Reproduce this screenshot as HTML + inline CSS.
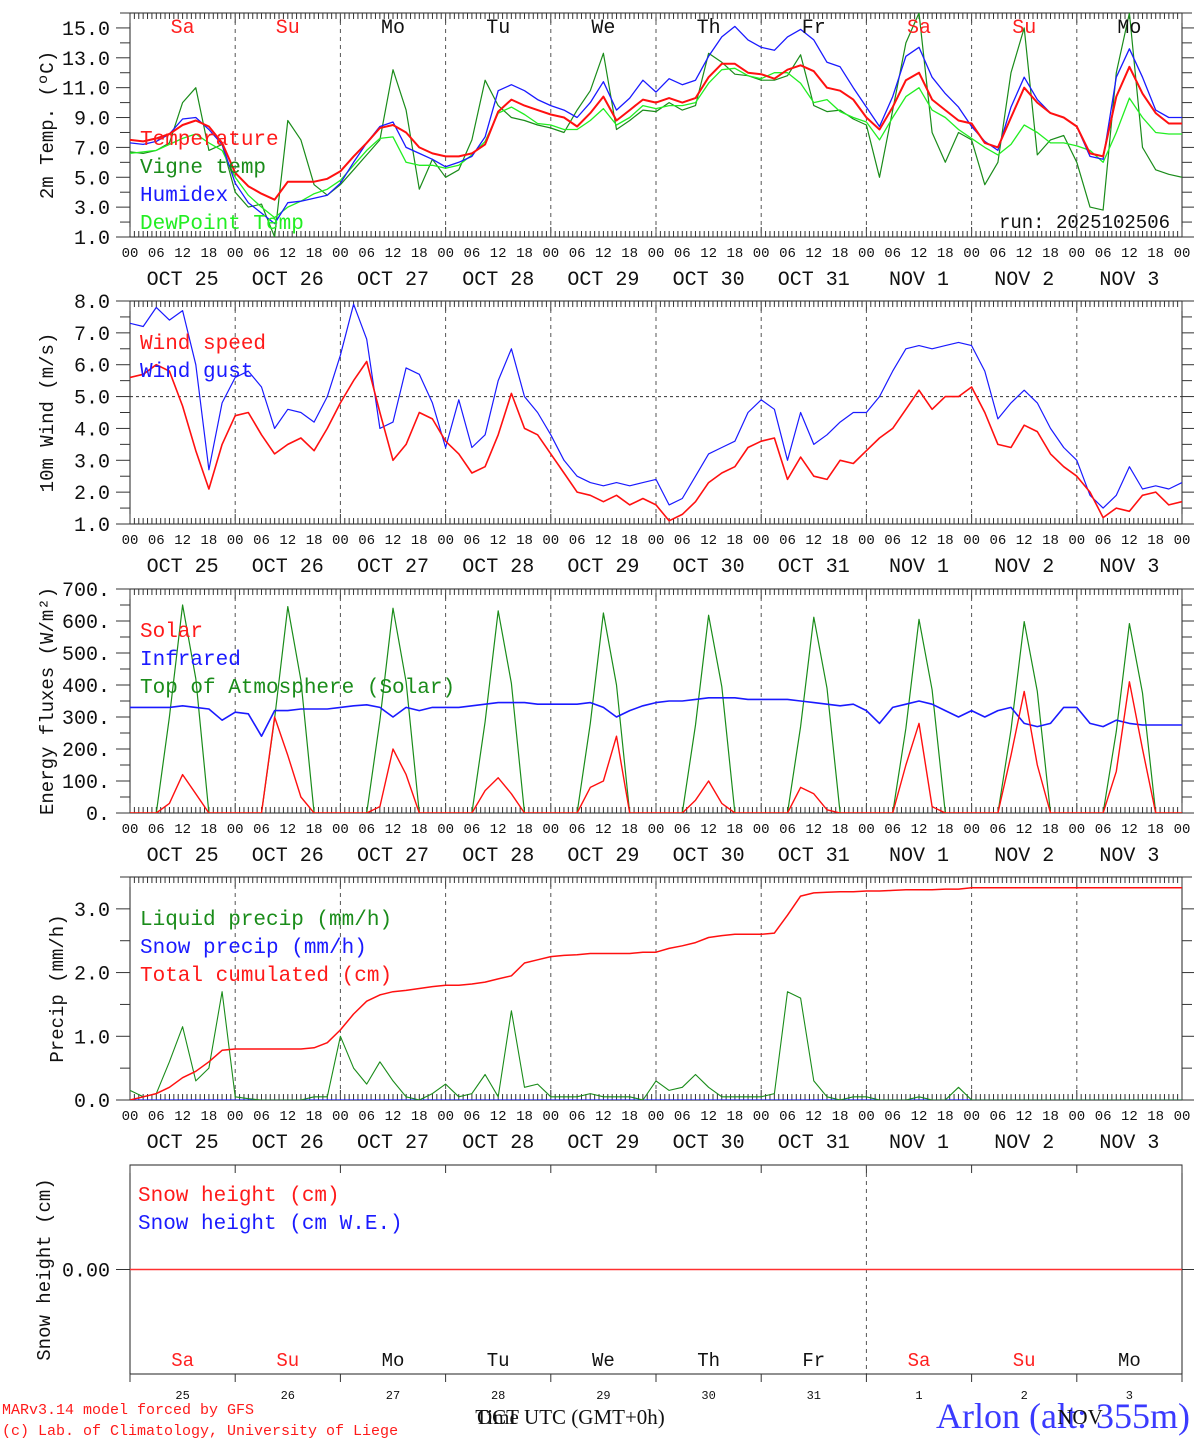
<!DOCTYPE html>
<html><head><meta charset="utf-8"><style>
body{margin:0;background:#fff}
svg{display:block}
text{font-family:"Liberation Mono","DejaVu Sans Mono",monospace}
</style></head><body>
<svg id="c" width="1194" height="1440" viewBox="0 0 1194 1440"></svg>
<script>
// ---- data (3-hourly, 81 points from Oct 25 00UTC to Nov 4 00UTC) ----
const dayNames = ["Sa","Su","Mo","Tu","We","Th","Fr","Sa","Su","Mo"];
const dayNums = ["25","26","27","28","29","30","31","1","2","3"];
const monthNames = ["OCT","OCT","OCT","OCT","OCT","OCT","OCT","NOV","NOV","NOV"];
const hourLabels = ["00","06","12","18"];
const temperature = [7.5,7.4,7.6,7.9,8.5,8.8,8.4,7.3, 5.3,4.4,3.9,3.5,4.7,4.7,4.7,4.9, 5.4,6.4,7.3,8.3,8.5,8.0,7.0,6.6, 6.4,6.4,6.6,7.2,9.4,10.2,9.8,9.5, 9.2,9.0,8.4,9.3,10.4,8.8,9.5,10.2, 10.0,10.3,10.0,10.3,11.7,12.6,12.6,12.0, 11.9,11.6,12.2,12.5,12.1,11.0,10.8,10.2, 9.0,8.2,9.7,11.5,12.0,10.2,9.5,8.8, 8.6,7.3,7.0,9.0,11.0,10.0,9.3,9.0, 8.4,6.6,6.4,10.4,12.4,10.6,9.3,8.6,8.6];
const humidex = [7.3,7.2,7.4,7.9,8.9,9.0,8.2,7.2, 4.6,3.3,2.6,1.9,3.3,3.4,3.6,3.8, 4.6,6.0,7.3,8.4,8.7,7.0,6.6,6.2, 5.7,6.0,6.4,7.7,10.8,11.2,10.8,10.2, 9.8,9.5,9.0,10.0,11.4,9.5,10.3,11.5, 10.7,11.6,11.2,11.5,13.1,14.4,15.1,14.2, 13.7,13.5,14.4,14.9,14.2,12.7,12.4,11.0, 9.7,8.4,10.4,13.1,13.7,11.7,10.6,9.7, 8.4,7.4,6.8,9.7,11.7,10.2,9.3,9.0, 8.4,6.4,6.2,11.7,13.6,11.7,9.5,9.0,9.0];
const dewpoint = [6.6,6.7,6.8,7.2,7.6,7.9,7.3,6.8, 5.0,3.8,3.0,2.3,3.0,3.4,3.9,4.2, 4.8,5.8,6.8,7.6,7.7,6.0,5.8,5.8, 5.6,5.8,6.5,7.4,9.3,9.7,9.2,8.6, 8.5,8.2,8.2,8.8,9.6,8.5,9.0,9.8, 9.6,9.8,9.8,10.0,11.3,12.2,12.3,11.8, 11.6,12.0,12.0,11.3,10.0,10.2,9.4,9.0, 8.7,7.5,9.0,10.4,11.0,9.5,9.0,8.2, 7.6,7.0,6.5,7.2,8.5,8.0,7.3,7.3, 7.1,6.8,6.0,8.0,10.3,9.0,8.0,7.9,7.9];
const vigne = [6.7,6.6,6.8,7.3,10.0,11.0,6.8,7.2, 4.0,3.0,3.2,1.0,8.8,7.5,4.5,3.8, 4.5,5.5,6.5,7.5,12.2,9.5,4.2,6.2, 5.0,5.5,7.5,11.5,9.8,9.0,8.8,8.5, 8.3,8.0,9.5,10.8,13.3,8.2,8.8,9.5, 9.4,10.0,9.5,9.8,13.3,12.7,11.9,11.8, 11.5,11.5,11.8,13.2,9.8,9.4,9.5,8.9, 8.5,5.0,9.5,14.0,16.0,8.0,6.0,8.0, 7.5,4.5,6.0,12.0,15.0,6.5,7.5,7.8, 6.0,3.0,2.8,12.0,16.0,7.0,5.5,5.2,5.0];
const windSpeed = [5.6,5.7,6.0,5.8,4.7,3.3,2.1,3.5, 4.4,4.5,3.8,3.2,3.5,3.7,3.3,4.0, 4.8,5.5,6.1,4.5,3.0,3.5,4.5,4.3, 3.6,3.2,2.6,2.8,3.8,5.1,4.0,3.8, 3.2,2.6,2.0,1.9,1.7,1.9,1.6,1.8, 1.6,1.1,1.3,1.7,2.3,2.6,2.8,3.4, 3.6,3.7,2.4,3.1,2.5,2.4,3.0,2.9, 3.3,3.7,4.0,4.6,5.2,4.6,5.0,5.0, 5.3,4.5,3.5,3.4,4.1,3.9,3.2,2.8, 2.5,2.0,1.2,1.5,1.4,1.9,2.0,1.6,1.7];
const windGust = [7.3,7.2,7.8,7.4,7.7,6.0,2.7,4.8, 5.6,5.8,5.3,4.0,4.6,4.5,4.2,5.0, 6.3,7.9,6.8,4.0,4.2,5.9,5.7,4.8, 3.4,4.9,3.4,3.8,5.5,6.5,5.0,4.5, 3.8,3.0,2.5,2.3,2.2,2.3,2.2,2.3, 2.4,1.6,1.8,2.5,3.2,3.4,3.6,4.5, 4.9,4.6,3.0,4.5,3.5,3.8,4.2,4.5, 4.5,5.0,5.8,6.5,6.6,6.5,6.6,6.7, 6.6,5.8,4.3,4.8,5.2,4.8,4.0,3.4, 3.0,1.9,1.5,1.9,2.8,2.1,2.2,2.1,2.3];
const solar = [0,0,0,30,120,60,0,0, 0,0,0,300,180,50,0,0, 0,0,0,20,200,120,0,0, 0,0,0,70,110,60,0,0, 0,0,0,80,100,240,0,0, 0,0,0,40,100,30,0,0, 0,0,0,80,60,10,0,0, 0,0,0,150,280,20,0,0, 0,0,0,180,380,150,0,0, 0,0,0,130,410,200,0,0,0];
const infrared = [330,330,330,330,335,330,325,290, 315,310,240,320,320,325,325,325, 330,335,338,330,300,330,320,330, 330,330,335,340,345,345,345,340, 340,340,340,345,330,300,320,335, 345,350,350,355,360,360,360,355, 355,355,355,350,345,340,335,340, 320,280,330,340,350,340,320,300, 320,300,320,330,280,270,280,330, 330,280,270,290,280,275,275,275,275];
const toaSolar = [0,0,0,300,650,420,0,0, 0,0,0,295,645,415,0,0, 0,0,0,290,640,410,0,0, 0,0,0,285,632,405,0,0, 0,0,0,280,625,400,0,0, 0,0,0,275,618,395,0,0, 0,0,0,270,612,390,0,0, 0,0,0,265,605,385,0,0, 0,0,0,260,598,380,0,0, 0,0,0,255,592,375,0,0,0];
const liquidPrecip = [0.15,0.05,0.1,0.6,1.15,0.3,0.5,1.7, 0.05,0.02,0,0,0,0,0.05,0.05, 1.0,0.5,0.25,0.6,0.3,0.05,0,0.1, 0.25,0.05,0.1,0.4,0.05,1.4,0.2,0.25, 0.05,0.05,0.05,0.1,0.05,0.05,0.05,0, 0.3,0.15,0.2,0.4,0.2,0.05,0.05,0.05, 0.05,0.1,1.7,1.6,0.3,0.05,0,0.05, 0.05,0,0,0,0.05,0,0,0.2, 0,0,0,0,0,0,0,0, 0,0,0,0,0,0,0,0,0];
const snowPrecip = [0,0,0,0,0,0,0,0, 0,0,0,0,0,0,0,0, 0,0,0,0,0,0,0,0, 0,0,0,0,0,0,0,0, 0,0,0,0,0,0,0,0, 0,0,0,0,0,0,0,0, 0,0,0,0,0,0,0,0, 0,0,0,0,0,0,0,0, 0,0,0,0,0,0,0,0, 0,0,0,0,0,0,0,0,0];
const cumulated = [0.0,0.05,0.1,0.2,0.35,0.45,0.6,0.78, 0.8,0.8,0.8,0.8,0.8,0.8,0.82,0.9, 1.1,1.35,1.55,1.65,1.7,1.72,1.75,1.78, 1.8,1.8,1.82,1.85,1.9,1.95,2.15,2.2, 2.25,2.27,2.28,2.3,2.3,2.3,2.3,2.32, 2.32,2.38,2.42,2.47,2.55,2.58,2.6,2.6, 2.6,2.62,2.9,3.2,3.25,3.26,3.27,3.27, 3.28,3.28,3.29,3.3,3.3,3.3,3.31,3.31, 3.33,3.33,3.33,3.33,3.33,3.33,3.33,3.33, 3.33,3.33,3.33,3.33,3.33,3.33,3.33,3.33,3.33];
const snowHeight = [0,0];

// ---- drawing ----
const NS="http://www.w3.org/2000/svg";
const svg=document.getElementById('c');
const X0=130,X1=1182,NSTEP=80;
function xs(i){return X0+i*(X1-X0)/NSTEP;}
function xh(h){return X0+h*(X1-X0)/240;}
function el(tag,attrs,parent){const e=document.createElementNS(NS,tag);for(const k in attrs)e.setAttribute(k,attrs[k]);(parent||svg).appendChild(e);return e;}
function txt(s,x,y,attrs,parent){const t=el('text',Object.assign({x:x,y:y},attrs||{}),parent);t.textContent=s;return t;}
function ysc(top,bot,mn,mx){return v=>bot-(v-mn)/(mx-mn)*(bot-top);}

function panel(name,top,bot,mn,mx,labels,labelFmt,minors,title,dashedDays,opts){
  const g=el('g',{});
  
  
  const y=ysc(top,bot,mn,mx);
  el('rect',{x:X0,y:top,width:X1-X0,height:bot-top,fill:'none',stroke:'#222','stroke-width':1},g);
  if(!opts||!opts.noMinor){
    for(let h=0;h<=240;h++){
      const x=xh(h);const L=(h%24==0)?10:6;
      el('line',{x1:x,y1:top,x2:x,y2:top+L,stroke:'#333','stroke-width':1},g);
      el('line',{x1:x,y1:bot,x2:x,y2:bot-L,stroke:'#333','stroke-width':1},g);
    }
  } else {
    for(let d=0;d<=10;d++){const x=xh(d*24);
      el('line',{x1:x,y1:top,x2:x,y2:top+8,stroke:'#333'},g);
      el('line',{x1:x,y1:bot,x2:x,y2:bot+8,stroke:'#333'},g);}
  }
  for(let d=1;d<10;d++){
    if(dashedDays==='all'||(dashedDays==='nov'&&d===7)){
      const x=xh(d*24);
      const l=el('line',{x1:x,y1:top,x2:x,y2:bot,stroke:'#555','stroke-width':1,'stroke-dasharray':'4,4'},g);
      
      
    }
  }
  for(const v of minors){const yy=y(v);
    el('line',{x1:X0-10,y1:yy,x2:X0,y2:yy,stroke:'#333'},g);
    el('line',{x1:X1,y1:yy,x2:X1+10,y2:yy,stroke:'#333'},g);}
  for(const v of labels){const yy=y(v);
    el('line',{x1:X0-14,y1:yy,x2:X0,y2:yy,stroke:'#333'},g);
    el('line',{x1:X1,y1:yy,x2:X1+14,y2:yy,stroke:'#333'},g);
    const t=txt(labelFmt(v),X0-20,yy+7,{'font-size':20,'text-anchor':'end',fill:'#111'},g);
    
    
  }
  const tt=txt(title,0,0,{'font-size':19,'text-anchor':'middle',fill:'#111',transform:`translate(${opts&&opts.titleX||53},${(top+bot)/2}) rotate(-90)`},g);
  
  
  if(!opts||!opts.noXLabels){
    for(let d=0;d<=10;d++){
      for(let k=0;k<4;k++){
        if(d===10&&k>0)break;
        const t=txt(hourLabels[k],xh(d*24+k*6),bot+20,{'font-size':14,'text-anchor':'middle',fill:'#111'},g);
        
        
      }
    }
    for(let d=0;d<10;d++){
      const t=txt(monthNames[d]+(dayNums[d].length<2?"  ":" ")+dayNums[d],xh(d*24+12),bot+48,{'font-size':20,'text-anchor':'middle',fill:'#111'},g);
      
      
    }
  }
  return {g,y};
}
function series(p,data,color,w,name){
  let d='';
  data.forEach((v,i)=>{d+=(i?'L':'M')+xs(i).toFixed(1)+','+p.y(v).toFixed(1);});
  const path=el('path',{d:d,fill:'none',stroke:color,'stroke-width':w,'stroke-linejoin':'round'},p.g);
  
  
}
function legend(p,items,x,y0,dy){
  items.forEach((it,i)=>{
    const t=txt(it[0],x,y0+i*dy,{'font-size':21,fill:it[1]},p.g);
    
    
  });
}
function clip(p,top,bot,id){
  const cp=el('clipPath',{id:id});el('rect',{x:X0,y:top,width:X1-X0,height:bot-top},cp);
  const g=el('g',{'clip-path':'url(#'+id+')'},p.g);return {g:g,y:p.y};
}

const p1=panel('temperature',13,237,1,16,[1,3,5,7,9,11,13,15],v=>v.toFixed(1),[2,4,6,8,10,12,14,16],'2m Temp. (ºC)','all');
const c1=clip(p1,13,237,'cp1');
series(c1,vigne,'#1a8c1a',1.2,'vigne-temp-line');
series(c1,dewpoint,'#22ee22',1.3,'dewpoint-line');
series(c1,humidex,'#1a1aff',1.3,'humidex-line');
series(c1,temperature,'#ff1010',2,'temperature-line');
legend(p1,[['Temperature','#ff1a1a'],['Vigne temp','#1a8c1a'],['Humidex','#1a1aff'],['DewPoint Temp','#22ee22']],140,145,28);
dayNames.forEach((n,d)=>{const t=txt(n,xh(d*24+12),33,{'font-size':20,'text-anchor':'middle',fill:(n==='Sa'||n==='Su')?'#ff2020':'#111'},p1.g);
  
  });
{const t=txt('run: 2025102506',1170,228,{'font-size':19,'text-anchor':'end',fill:'#111'},p1.g);
 
 }

const p2=panel('wind',301,524,1,8,[1,2,3,4,5,6,7,8],v=>v.toFixed(1),[1.5,2.5,3.5,4.5,5.5,6.5,7.5],'10m Wind (m/s)','all');
{const l=el('line',{x1:X0,y1:p2.y(5),x2:X1,y2:p2.y(5),stroke:'#333','stroke-dasharray':'3,3'},p2.g);
 
 }
const c2=clip(p2,301,524,'cp2');
series(c2,windGust,'#1a1aff',1.2,'wind-gust-line');
series(c2,windSpeed,'#ff1010',1.6,'wind-speed-line');
legend(p2,[['Wind speed','#ff1a1a'],['Wind gust','#1a1aff']],140,349,28);

const p3=panel('energy',589,813,0,700,[0,100,200,300,400,500,600,700],v=>v+'.',[50,150,250,350,450,550,650],'Energy fluxes (W/m²)','all');
const c3=clip(p3,589,813,'cp3');
series(c3,toaSolar,'#1a8c1a',1.2,'toa-solar-line');
series(c3,infrared,'#1a1aff',1.6,'infrared-line');
series(c3,solar,'#ff1010',1.4,'solar-line');
legend(p3,[['Solar','#ff1a1a'],['Infrared','#1a1aff'],['Top of Atmosphere (Solar)','#1a8c1a']],140,637,28);

const p4=panel('precip',877,1100,0,3.5,[0,1,2,3],v=>v.toFixed(1),[0.5,1.5,2.5,3.5],'Precip (mm/h)','all',{titleX:63});
const c4=clip(p4,877,1100,'cp4');
series(c4,snowPrecip,'#1a1aff',1.2,'snow-precip-line');
series(c4,liquidPrecip,'#1a8c1a',1.1,'liquid-precip-line');
series(c4,cumulated,'#ff1010',1.5,'cumulated-precip-line');
legend(p4,[['Liquid precip (mm/h)','#1a8c1a'],['Snow precip (mm/h)','#1a1aff'],['Total cumulated (cm)','#ff1a1a']],140,925,28);

const p5=panel('snow',1165,1374,-1,1,[0],v=>'0.00',[],'Snow height (cm)','nov',{noMinor:true,noXLabels:true,titleX:50});
{const l=el('line',{x1:X0,y1:p5.y(snowHeight[0]),x2:X1,y2:p5.y(snowHeight[1]),stroke:'#ff3030','stroke-width':1.5},p5.g);
 
 }
legend(p5,[['Snow height (cm)','#ff1a1a'],['Snow height (cm W.E.)','#1a1aff']],138,1201,28);
dayNames.forEach((n,d)=>{const t=txt(n,xh(d*24+12),1366,{'font-size':19,'text-anchor':'middle',fill:(n==='Sa'||n==='Su')?'#ff2020':'#111'},p5.g);
  
  });
dayNums.forEach((n,d)=>{const t=txt(n,xh(d*24+12),1399,{'font-size':12,'text-anchor':'middle',fill:'#111'},p5.g);
  
  });

const SERIF='font-family:"Liberation Serif",serif';
const foot=[['MARv3.14 model forced by GFS',2,1414,15,'#ff1a1a','model-credit'],['(c) Lab. of Climatology, University of Liege',2,1435,15,'#ff1a1a','lab-credit']];
foot.forEach(f=>{const t=txt(f[0],f[1],f[2],{'font-size':f[3],fill:f[4]});
  
  });
{const t=txt('Time UTC (GMT+0h)',570,1424,{'font-size':21,'text-anchor':'middle',fill:'#111',style:SERIF});
 
 
 const t2=txt('OCT',498,1424,{'font-size':21,'text-anchor':'middle',fill:'#111',style:SERIF});
 
 
 const t3=txt('Arlon (alt: 355m)',1190,1428,{'font-size':36,'text-anchor':'end',fill:'#3a3aff',style:SERIF});
 
 
 const t4=txt('NOV',1080,1424,{'font-size':21,'text-anchor':'middle',fill:'#111',style:SERIF});
 
 }
</script>
</body></html>
